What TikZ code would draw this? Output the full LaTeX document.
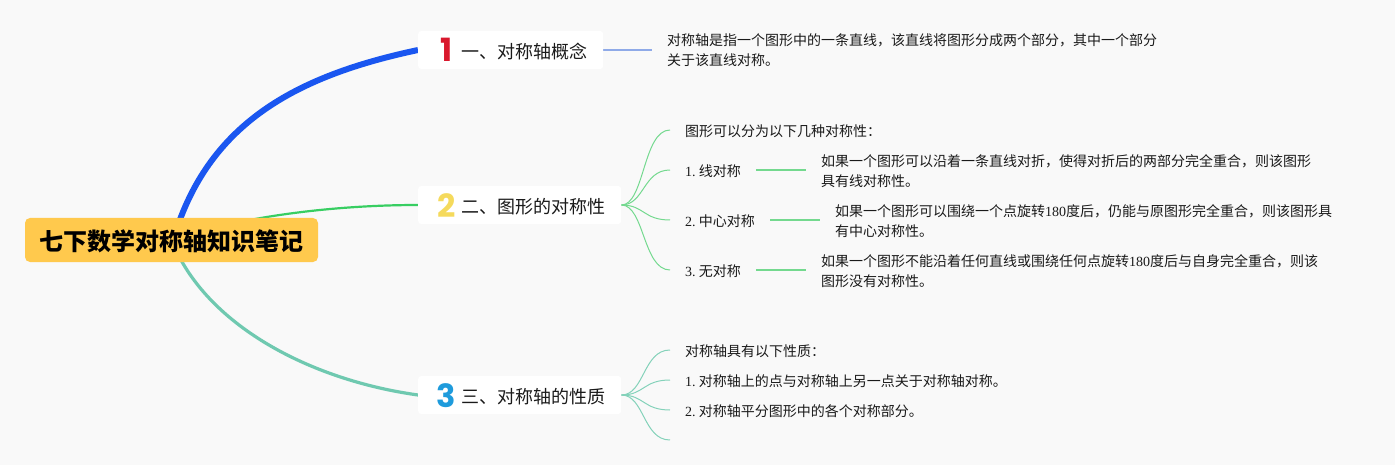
\documentclass[tikz,border=0pt]{standalone}
\usepackage{fontspec}
\setmainfont{Liberation Serif}
\newfontfamily\cjk{Noto Sans CJK SC}
\newfontfamily\iconfont{Poppins}
\newcommand{\lat}[1]{{\rmfamily #1}\hspace{3.2pt}}
\usetikzlibrary{backgrounds,calc}
\definecolor{pagebg}{HTML}{F9F9F9}
\definecolor{rootfill}{HTML}{FFC94D}
\definecolor{blueedge}{HTML}{1A56F0}
\definecolor{greenedge}{HTML}{38CE62}
\definecolor{tealedge}{HTML}{6FC9B0}
\definecolor{bluesoft}{HTML}{8FAAE8}
\definecolor{greensoft}{HTML}{74D98F}
\definecolor{tealsoft}{HTML}{84D2BA}
\definecolor{inktext}{HTML}{1A1A1A}
\definecolor{iconred}{HTML}{D9182D}
\definecolor{iconyellow}{HTML}{F5DA5C}
\definecolor{iconblue}{HTML}{1E9BDC}
\tikzset{
  rootbox/.style={fill=rootfill,rounded corners=5pt,minimum width=293pt,minimum height=44pt,inner sep=0pt,text height=24pt,text depth=2pt,font=\cjk\bfseries\fontsize{24}{28}\selectfont,text=black},
  branchbox/.style={fill=white,rounded corners=3pt,minimum height=38pt,inner sep=0pt,anchor=west},
  branchtext/.style={anchor=west,inner sep=0pt,font=\cjk\fontsize{18}{22}\selectfont,text=inktext},
  numicon/.style={inner sep=0pt,font=\iconfont\bfseries\fontsize{32}{34}\selectfont},
  leaf/.style={anchor=west,inner xsep=15pt,inner ysep=0pt,align=left,font=\cjk\fontsize{14}{20}\selectfont,text=inktext},
  softline/.style={line width=1.5pt},
  fan/.style={line width=1pt},
}
\newcommand{\fancurve}[3]{\draw[fan,#1] (#2) .. controls ($(#2)+(23,0)$) and ($([yshift=1pt]#3)+(-27,0)$) .. ([yshift=1pt]#3);}
\newcommand{\subline}[2]{\draw[greensoft,softline] ([yshift=1pt]#1.east) -- ([yshift=1pt]#2.west);}
\begin{document}
\begin{tikzpicture}[x=1pt,y=-1pt]
\useasboundingbox (0,0) rectangle (1395,465);
% root and branches
\node[rootbox] (root) at (171.5,240) {七下数学对称轴知识笔记};
\node[branchbox,minimum width=185pt] (b1) at (418,50) {};
\node[branchbox,minimum width=203pt] (b2) at (418,205) {};
\node[branchbox,minimum width=203pt] (b3) at (418,395) {};
\node[branchtext] (t1) at (461,52) {一、对称轴概念};
\node[branchtext] (t2) at (461,207) {二、图形的对称性};
\node[branchtext] (t3) at (461,397) {三、对称轴的性质};
\node[numicon,text=iconred] (i1) at (446.5,50) {1};
\node[numicon,text=iconyellow] (i2) at (446.5,205.5) {2};
\node[numicon,text=iconblue] (i3) at (446.5,395.5) {3};
% leaves of branch 1
\node[leaf] (a1) at (652,50.5) {对称轴是指一个图形中的一条直线，该直线将图形分成两个部分，其中一个部分\\关于该直线对称。};
% leaves of branch 2
\node[leaf] (c0) at (670,131) {图形可以分为以下几种对称性：};
\node[leaf] (c1) at (670,171) {\lat{1.}线对称};
\node[leaf] (c2) at (670,221) {\lat{2.}中心对称};
\node[leaf] (c3) at (670,271) {\lat{3.}无对称};
\node[leaf] (d1) at (806,171) {如果一个图形可以沿着一条直线对折，使得对折后的两部分完全重合，则该图形\\具有线对称性。};
\node[leaf] (d2) at (820,221) {如果一个图形可以围绕一个点旋转{\rmfamily 180}度后，仍能与原图形完全重合，则该图形具\\有中心对称性。};
\node[leaf] (d3) at (806,271) {如果一个图形不能沿着任何直线或围绕任何点旋转{\rmfamily 180}度后与自身完全重合，则该\\图形没有对称性。};
% leaves of branch 3
\node[leaf] (e0) at (670,351) {对称轴具有以下性质：};
\node[leaf] (e1) at (670,381) {\lat{1.}对称轴上的点与对称轴上另一点关于对称轴对称。};
\node[leaf] (e2) at (670,411) {\lat{2.}对称轴平分图形中的各个对称部分。};
\coordinate (e3) at (670,441);
\begin{scope}[on background layer]
\fill[pagebg] (0,0) rectangle (1395,465);
\draw[blueedge,line width=6pt] (178,225) .. controls (215,120) and (300,75) .. (b1.west);
\draw[greenedge,line width=2.2pt] (root.center) .. controls (245,215) and (340,205) .. (b2.west);
\draw[tealedge,line width=3.2pt] (root.center) .. controls (205,325) and (310,380) .. (b3.west);
\draw[bluesoft,softline] (b1.east) -- ([yshift=.5pt]a1.west);
\foreach \n in {c0,c1,c2,c3} {\fancurve{greensoft}{b2.east}{\n.west}}
\foreach \n in {e0,e1,e2,e3} {\fancurve{tealsoft}{b3.east}{\n.west}}
\subline{c1}{d1}
\subline{c2}{d2}
\subline{c3}{d3}
\end{scope}
\end{tikzpicture}
\end{document}
